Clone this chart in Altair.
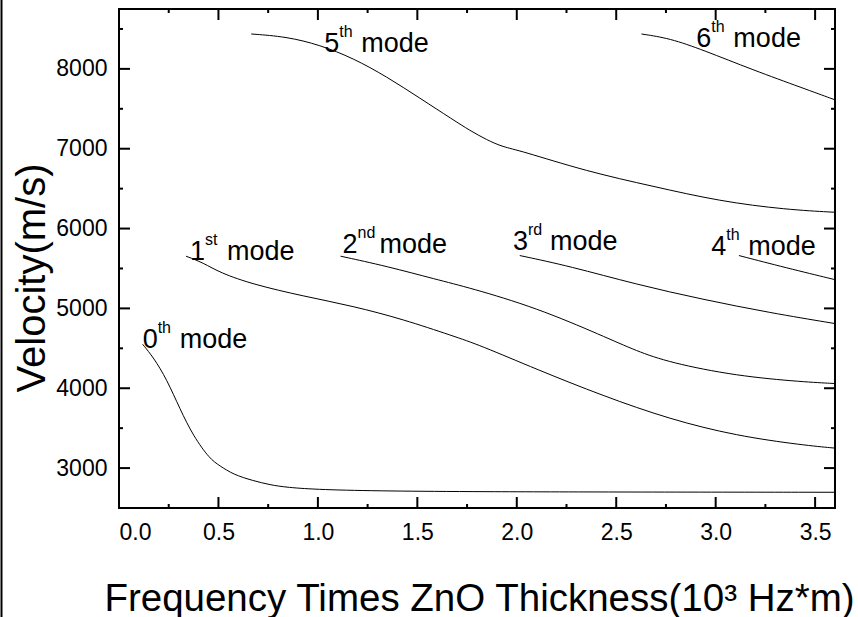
import altair as alt
import pandas as pd

# ---- data ----
M0_X = [0.119, 0.174, 0.24, 0.307, 0.373, 0.457, 0.507, 0.574, 0.675, 0.76, 0.843, 1.01, 1.345, 1.814, 2.5, 3.6]
M0_Y = [4550, 4383, 4112, 3737, 3404, 3112, 3029, 2920, 2841, 2790, 2758, 2729, 2712, 2704, 2700, 2697]
M1_X = [0.337, 0.424, 0.508, 0.675, 0.926, 1.177, 1.43, 1.68, 1.814, 2.099, 2.434, 2.769, 3.104, 3.44, 3.6]
M1_Y = [5654, 5571, 5446, 5300, 5154, 5029, 4862, 4654, 4540, 4237, 3904, 3612, 3404, 3287, 3250]
M2_X = [1.114, 1.345, 1.596, 1.764, 2.099, 2.434, 2.601, 2.769, 3.104, 3.44, 3.6]
M2_Y = [5654, 5529, 5362, 5258, 5008, 4654, 4467, 4321, 4154, 4079, 4059]
M3_X = [2.015, 2.266, 2.601, 2.936, 3.271, 3.6]
M3_Y = [5662, 5529, 5300, 5112, 4946, 4810]
M4_X = [3.117, 3.355, 3.6]
M4_Y = [5662, 5508, 5360]
M5_X = [0.665, 0.841, 1.01, 1.178, 1.345, 1.513, 1.68, 1.764, 1.848, 1.931, 2.015, 2.35, 2.685, 3.02, 3.355, 3.6]
M5_Y = [8437, 8404, 8300, 8133, 7904, 7633, 7362, 7229, 7112, 7021, 6979, 6717, 6529, 6342, 6237, 6204]
M6_X = [2.627, 2.769, 2.936, 3.187, 3.44, 3.6]
M6_Y = [8437, 8383, 8237, 7987, 7758, 7612]

LABEL_NUM = ["0", "1", "2", "3", "4", "5", "6"]
LABEL_SUP = ["th", "st", "nd", "rd", "th", "th", "th"]
LABEL_X = [0.119, 0.357, 1.124, 1.981, 2.978, 1.032, 2.903]
LABEL_Y = [4500, 5612, 5696, 5729, 5675, 8216, 8279]

X_MAJOR = [0.0, 0.5, 1.0, 1.5, 2.0, 2.5, 3.0, 3.5]
X_MINOR = [0.25, 0.75, 1.25, 1.75, 2.25, 2.75, 3.25]
Y_MAJOR = [3000, 4000, 5000, 6000, 7000, 8000]
Y_MINOR = [2500, 3500, 4500, 5500, 6500, 7500, 8500]

FONT = "Liberation Sans"
W, H = 716, 499

rows = []
for name, xs, ys in [("0", M0_X, M0_Y), ("1", M1_X, M1_Y), ("2", M2_X, M2_Y),
                     ("3", M3_X, M3_Y), ("4", M4_X, M4_Y), ("5", M5_X, M5_Y),
                     ("6", M6_X, M6_Y)]:
    for i, (xv, yv) in enumerate(zip(xs, ys)):
        rows.append({"mode": name, "x": xv, "y": yv, "i": i})
curves = pd.DataFrame(rows)
labels = pd.DataFrame({"num": LABEL_NUM, "sup": LABEL_SUP, "x": LABEL_X, "y": LABEL_Y})

xscale = alt.Scale(domain=[0, 3.6], nice=False, zero=False)
yscale = alt.Scale(domain=[2500, 8750], nice=False, zero=False)

xaxis = alt.Axis(values=X_MAJOR, format=".1f", ticks=False, tickSize=0, domain=False, grid=False,
                 labelFont=FONT, labelFontSize=23, labelColor="black", labelPadding=31,
                 labelBaseline="alphabetic",
                 title="Frequency Times ZnO Thickness(10³ Hz*m)", titleFont=FONT, titleFontSize=38.5,
                 titleFontWeight="normal", titleColor="black", titleX=W / 2 + 2, titleY=102,
                 titleAlign="center", titleBaseline="alphabetic")
yaxis = alt.Axis(values=Y_MAJOR, format="d", ticks=False, tickSize=0, domain=False, grid=False,
                 labelFont=FONT, labelFontSize=23, labelColor="black", labelPadding=12,
                 title="Velocity(m/s)", titleFont=FONT, titleFontSize=40, titleFontWeight="normal",
                 titleColor="black", titleAngle=270, titleX=-75, titleY=268.5,
                 titleAlign="center", titleBaseline="alphabetic")

lines = alt.Chart(curves).mark_line(color="black", strokeWidth=1, interpolate="basis").encode(
    x=alt.X("x:Q", scale=xscale, axis=xaxis),
    y=alt.Y("y:Q", scale=yscale, axis=yaxis),
    detail="mode:N",
    order="i:Q",
)

base_lab = alt.Chart(labels).encode(x=alt.X("x:Q", scale=xscale), y=alt.Y("y:Q", scale=yscale))
num_t = base_lab.mark_text(font=FONT, fontSize=27, align="left", baseline="alphabetic", color="black").encode(text="num:N")
sup_t = base_lab.mark_text(font=FONT, fontSize=16, align="left", baseline="alphabetic", color="black", dx=15, dy=-15).encode(text="sup:N")
mode_t = base_lab.mark_text(font=FONT, fontSize=27, align="left", baseline="alphabetic", color="black", dx=37).encode(text=alt.value("mode"))


def xticks(vals, ycenter, length):
    return alt.Chart(pd.DataFrame({"tx": vals})).mark_tick(
        color="black", thickness=2, size=length, orient="vertical", opacity=1
    ).encode(x=alt.X("tx:Q", scale=xscale), y=alt.value(ycenter))


def yticks(vals, xcenter, length):
    return alt.Chart(pd.DataFrame({"ty": vals})).mark_tick(
        color="black", thickness=2, size=length, orient="horizontal", opacity=1
    ).encode(y=alt.Y("ty:Q", scale=yscale), x=alt.value(xcenter))


tick_layers = [
    xticks(X_MAJOR, H - 5.5, 11), xticks(X_MINOR, H - 2, 4),
    xticks(X_MAJOR, 5.5, 11), xticks(X_MINOR, 2, 4),
    yticks(Y_MAJOR, 5.5, 11), yticks(Y_MINOR, 2, 4),
    yticks(Y_MAJOR, W - 5.5, 11), yticks(Y_MINOR, W - 2, 4),
]

border = alt.Chart(pd.DataFrame({"a": [0]})).mark_rule(color="black", strokeWidth=2).encode(
    x=alt.value(-117.5), y=alt.value(-9), y2=alt.value(608))

chart = alt.layer(lines, *tick_layers, num_t, sup_t, mode_t, border).properties(
    width=W, height=H,
    background="white",
    autosize=alt.AutoSizeParams(type="none"),
    padding={"left": 119, "top": 9, "right": 23, "bottom": 109},
).configure_view(stroke="black", strokeWidth=2)

chart.save("out.html", embed_options={"renderer": "svg", "actions": False})
